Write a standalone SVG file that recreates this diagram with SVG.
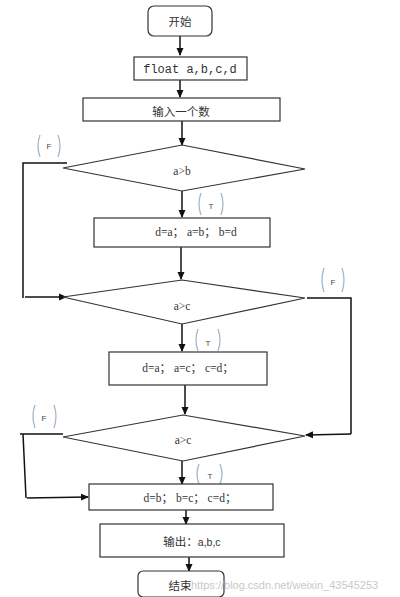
<svg xmlns="http://www.w3.org/2000/svg" width="400" height="597" viewBox="0 0 400 597">
<defs>
<marker id="arr" markerWidth="8" markerHeight="8" refX="7" refY="4" orient="auto" markerUnits="userSpaceOnUse">
<path d="M0,0.5 L8,4 L0,7.5 Z" fill="#111"/>
</marker>
<style>
.box{fill:#fff;stroke:#333;stroke-width:1.2}
.ln{fill:none;stroke:#111;stroke-width:1.5}
.br{fill:none;stroke:#a3b8ca;stroke-width:1.3}
.t{font-family:"Liberation Serif","Noto Sans CJK SC",serif;font-size:11.5px;fill:#333;text-anchor:middle;dominant-baseline:central}
.m{font-family:"Liberation Mono",monospace;font-size:12px;fill:#333;text-anchor:middle;dominant-baseline:central}
.s{font-family:"Liberation Sans","Noto Sans CJK SC",sans-serif;font-size:8px;fill:#444;text-anchor:middle;dominant-baseline:central}
.w{font-family:"Liberation Sans",sans-serif;font-size:11px;fill:#bbb;opacity:0.8}
</style>
</defs>
<rect width="400" height="597" fill="#fff"/>
<g id="connectors">
<line class="ln" x1="180" y1="28" x2="180" y2="55" marker-end="url(#arr)"/>
<line class="ln" x1="180" y1="80" x2="180" y2="97" marker-end="url(#arr)"/>
<line class="ln" x1="182" y1="121" x2="182" y2="145" marker-end="url(#arr)"/>
<line class="ln" x1="182" y1="191" x2="182" y2="217" marker-end="url(#arr)"/>
<polyline class="ln" points="67,163 23,163 23,298"/>
<line class="ln" x1="25" y1="297" x2="66" y2="297" marker-end="url(#arr)"/>
<line class="ln" x1="181" y1="247" x2="181" y2="279" marker-end="url(#arr)"/>
<line class="ln" x1="182" y1="324" x2="182" y2="351" marker-end="url(#arr)"/>
<polyline class="ln" points="307,298 351,298 351,434"/>
<line class="ln" x1="351" y1="434" x2="306" y2="435" marker-end="url(#arr)"/>
<line class="ln" x1="185" y1="385" x2="185" y2="414" marker-end="url(#arr)"/>
<polyline class="ln" points="63,434 20,434"/>
<polyline class="ln" points="23,434 26,498"/>
<line class="ln" x1="27" y1="498" x2="88" y2="497" marker-end="url(#arr)"/>
<line class="ln" x1="182" y1="461" x2="182" y2="484" marker-end="url(#arr)"/>
<line class="ln" x1="186" y1="510" x2="186" y2="524" marker-end="url(#arr)"/>
<line class="ln" x1="189" y1="557" x2="189" y2="571" marker-end="url(#arr)"/>
</g>
<g id="start"><rect class="box" x="148" y="6" width="64" height="30" rx="6"/><text class="t" x="180" y="22">开始</text></g>
<g id="decl"><rect class="box" x="134" y="57" width="113" height="23"/><text class="m" x="190" y="70">float a,b,c,d</text></g>
<g id="input"><rect class="box" x="83" y="98" width="197" height="23"/><text class="t" x="181" y="112">输入一个数</text></g>
<g id="cond1"><polygon class="box" points="63,168 182,145 305,169 182,191"/><text class="t" x="182" y="171">a&gt;b</text></g>
<g id="labF1"><path class="br" d="M40,135 Q36,146 40,157 M58,135 Q62,146 58,157"/><text class="s" x="49" y="146">F</text></g>
<g id="labT1"><path class="br" d="M201,193 Q197,204 201,215 M221,193 Q225,204 221,215"/><text class="s" x="211" y="206">T</text></g>
<g id="swap1"><rect class="box" x="94" y="218" width="176" height="29"/><text class="t" x="196" y="232">d=a； a=b； b=d</text></g>
<g id="cond2"><polygon class="box" points="63,297 182,280 305,298 182,324"/><text class="t" x="182" y="306">a&gt;c</text></g>
<g id="labF2"><path class="br" d="M324,268 Q320,280 324,292 M342,268 Q346,280 342,292"/><text class="s" x="333" y="282">F</text></g>
<g id="labT2"><path class="br" d="M198,329 Q194,340 198,351 M218,329 Q222,340 218,351"/><text class="s" x="208" y="343">T</text></g>
<g id="swap2"><rect class="box" x="109" y="352" width="158" height="33"/><text class="t" x="188" y="368">d=a； a=c； c=d；</text></g>
<g id="cond3"><polygon class="box" points="63,437 183,415 305,436 183,461"/><text class="t" x="183" y="440">a&gt;c</text></g>
<g id="labF3"><path class="br" d="M35,405 Q31,416 35,428 M54,405 Q58,416 54,428"/><text class="s" x="44" y="418">F</text></g>
<g id="labT3"><path class="br" d="M199,464 Q195,474 199,484 M220,464 Q224,474 220,484"/><text class="s" x="210" y="476">T</text></g>
<g id="swap3"><rect class="box" x="89" y="484" width="184" height="26"/><text class="t" x="190" y="498">d=b； b=c； c=d；</text></g>
<g id="output"><rect class="box" x="100" y="524" width="184" height="33"/><text class="t" x="192" y="542">输出：<tspan font-family="Liberation Sans,sans-serif" font-size="10.5">a,b,c</tspan></text></g>
<g id="end"><rect class="box" x="138" y="571" width="86" height="26" rx="5"/><text class="t" x="180" y="586">结束</text></g>
<text class="w" x="191" y="589">https://blog.csdn.net/weixin_43545253</text>
</svg>
